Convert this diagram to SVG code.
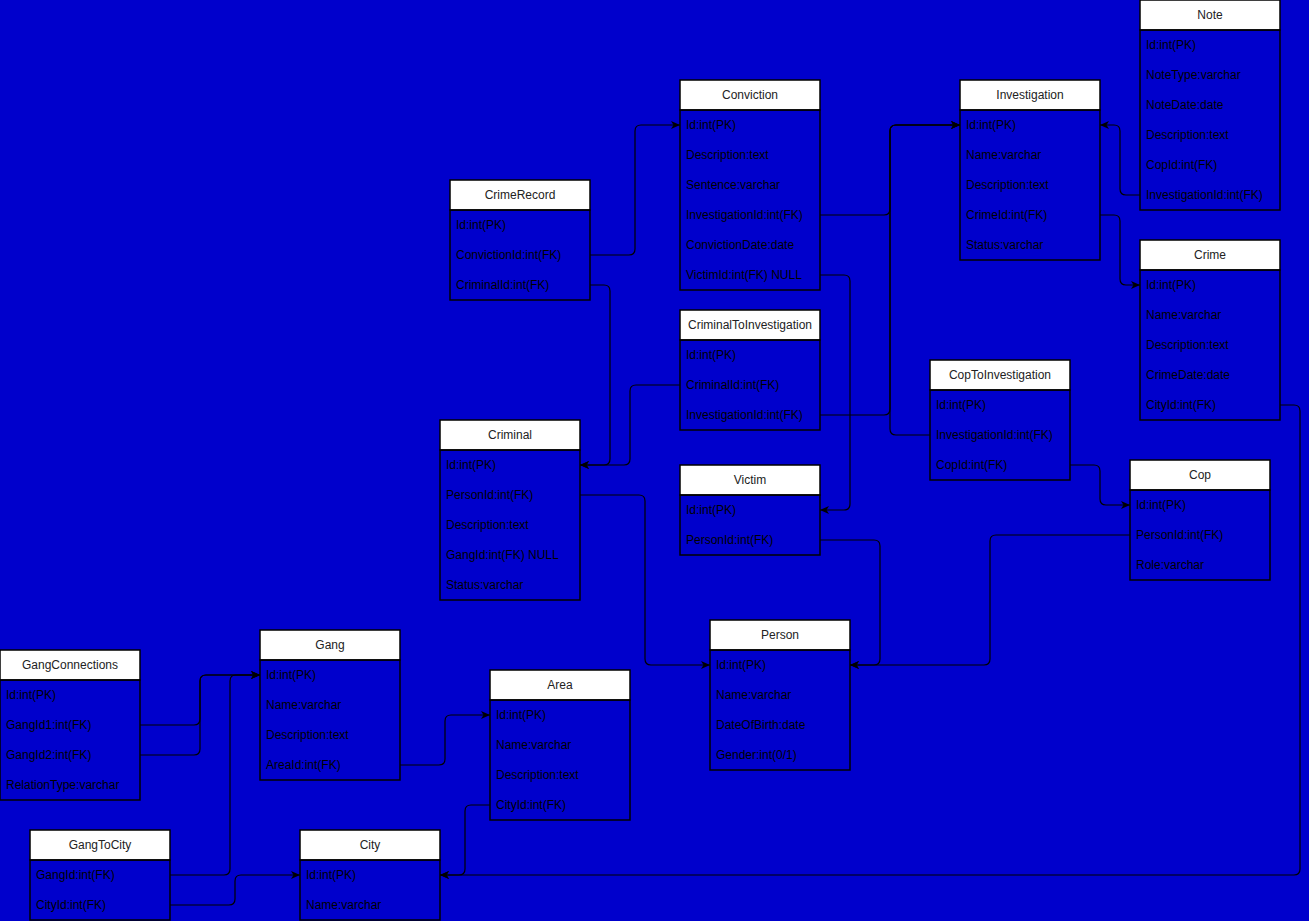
<svg xmlns="http://www.w3.org/2000/svg" width="1309" height="921" viewBox="0 0 1309 921">
<defs>
<style>
.bg{fill:#0000CC}
.hdr{fill:#ffffff;stroke:#000;stroke-width:1.5}
.body{fill:none;stroke:#000;stroke-width:1.5}
.t{font-family:"Liberation Sans",Arial,sans-serif;font-size:12px;fill:#222;text-anchor:middle}
.f{font-family:"Liberation Sans",Arial,sans-serif;font-size:12px;fill:#000}
.c{fill:none;stroke:#000;stroke-width:1.2;marker-end:url(#arr)}
</style>
<marker id="arr" markerUnits="userSpaceOnUse" markerWidth="10" markerHeight="10" refX="9" refY="5" orient="auto">
<path d="M0,1 L9,5 L0,9 L2.5,5 Z" fill="#000"/>
</marker>
</defs>
<rect class="bg" x="0" y="0" width="1309" height="921"/>

<g id="connectors">
<path class="c" d="M590 255 H629 Q635 255 635 249 V131 Q635 125 641 125 H680"/>
<path class="c" d="M590 285 H604 Q610 285 610 291 V459 Q610 465 604 465 H580"/>
<path class="c" d="M680 385 H636 Q630 385 630 391 V459 Q630 465 624 465 H580"/>
<path class="c" d="M820 215 H884 Q890 215 890 209 V131 Q890 125 896 125 H960"/>
<path class="c" d="M820 415 H884 Q890 415 890 409 V131 Q890 125 896 125 H960"/>
<path class="c" d="M930 435 H896 Q890 435 890 429 V131 Q890 125 896 125 H960"/>
<path class="c" d="M820 275 H844 Q850 275 850 281 V504 Q850 510 844 510 H820"/>
<path class="c" d="M820 540 H874 Q880 540 880 546 V659 Q880 665 874 665 H850"/>
<path class="c" d="M1130 535 H996 Q990 535 990 541 V659 Q990 665 984 665 H850"/>
<path class="c" d="M580 495 H639 Q645 495 645 501 V659 Q645 665 651 665 H710"/>
<path class="c" d="M1140 195 H1126 Q1120 195 1120 189 V131 Q1120 125 1114 125 H1100"/>
<path class="c" d="M1100 215 H1114 Q1120 215 1120 221 V279 Q1120 285 1126 285 H1140"/>
<path class="c" d="M1070 465 H1094 Q1100 465 1100 471 V499 Q1100 505 1106 505 H1130"/>
<path class="c" d="M1280 405 H1294 Q1300 405 1300 411 V869 Q1300 875 1294 875 H440"/>
<path class="c" d="M490 805 H471 Q465 805 465 811 V869 Q465 875 459 875 H440"/>
<path class="c" d="M400 765 H439 Q445 765 445 759 V721 Q445 715 451 715 H490"/>
<path class="c" d="M140 725 H194 Q200 725 200 719 V681 Q200 675 206 675 H260"/>
<path class="c" d="M140 755 H194 Q200 755 200 749 V681 Q200 675 206 675 H260"/>
<path class="c" d="M170 875 H224 Q230 875 230 869 V681 Q230 675 236 675 H260"/>
<path class="c" d="M170 905 H229 Q235 905 235 899 V881 Q235 875 241 875 H300"/>
</g>

<g id="note">
<rect class="hdr" x="1140" y="0" width="140" height="30"/>
<rect class="body" x="1140" y="30" width="140" height="180"/>
<text class="t" x="1210" y="19">Note</text>
<text class="f" x="1146" y="49">Id:int(PK)</text>
<text class="f" x="1146" y="79">NoteType:varchar</text>
<text class="f" x="1146" y="109">NoteDate:date</text>
<text class="f" x="1146" y="139">Description:text</text>
<text class="f" x="1146" y="169">CopId:int(FK)</text>
<text class="f" x="1146" y="199">InvestigationId:int(FK)</text>
</g>

<g id="conviction">
<rect class="hdr" x="680" y="80" width="140" height="30"/>
<rect class="body" x="680" y="110" width="140" height="180"/>
<text class="t" x="750" y="99">Conviction</text>
<text class="f" x="686" y="129">Id:int(PK)</text>
<text class="f" x="686" y="159">Description:text</text>
<text class="f" x="686" y="189">Sentence:varchar</text>
<text class="f" x="686" y="219">InvestigationId:int(FK)</text>
<text class="f" x="686" y="249">ConvictionDate:date</text>
<text class="f" x="686" y="279">VictimId:int(FK) NULL</text>
</g>

<g id="investigation">
<rect class="hdr" x="960" y="80" width="140" height="30"/>
<rect class="body" x="960" y="110" width="140" height="150"/>
<text class="t" x="1030" y="99">Investigation</text>
<text class="f" x="966" y="129">Id:int(PK)</text>
<text class="f" x="966" y="159">Name:varchar</text>
<text class="f" x="966" y="189">Description:text</text>
<text class="f" x="966" y="219">CrimeId:int(FK)</text>
<text class="f" x="966" y="249">Status:varchar</text>
</g>

<g id="crimerecord">
<rect class="hdr" x="450" y="180" width="140" height="30"/>
<rect class="body" x="450" y="210" width="140" height="90"/>
<text class="t" x="520" y="199">CrimeRecord</text>
<text class="f" x="456" y="229">Id:int(PK)</text>
<text class="f" x="456" y="259">ConvictionId:int(FK)</text>
<text class="f" x="456" y="289">CriminalId:int(FK)</text>
</g>

<g id="crime">
<rect class="hdr" x="1140" y="240" width="140" height="30"/>
<rect class="body" x="1140" y="270" width="140" height="150"/>
<text class="t" x="1210" y="259">Crime</text>
<text class="f" x="1146" y="289">Id:int(PK)</text>
<text class="f" x="1146" y="319">Name:varchar</text>
<text class="f" x="1146" y="349">Description:text</text>
<text class="f" x="1146" y="379">CrimeDate:date</text>
<text class="f" x="1146" y="409">CityId:int(FK)</text>
</g>

<g id="criminaltoinvestigation">
<rect class="hdr" x="680" y="310" width="140" height="30"/>
<rect class="body" x="680" y="340" width="140" height="90"/>
<text class="t" x="750" y="329">CriminalToInvestigation</text>
<text class="f" x="686" y="359">Id:int(PK)</text>
<text class="f" x="686" y="389">CriminalId:int(FK)</text>
<text class="f" x="686" y="419">InvestigationId:int(FK)</text>
</g>

<g id="coptoinvestigation">
<rect class="hdr" x="930" y="360" width="140" height="30"/>
<rect class="body" x="930" y="390" width="140" height="90"/>
<text class="t" x="1000" y="379">CopToInvestigation</text>
<text class="f" x="936" y="409">Id:int(PK)</text>
<text class="f" x="936" y="439">InvestigationId:int(FK)</text>
<text class="f" x="936" y="469">CopId:int(FK)</text>
</g>

<g id="criminal">
<rect class="hdr" x="440" y="420" width="140" height="30"/>
<rect class="body" x="440" y="450" width="140" height="150"/>
<text class="t" x="510" y="439">Criminal</text>
<text class="f" x="446" y="469">Id:int(PK)</text>
<text class="f" x="446" y="499">PersonId:int(FK)</text>
<text class="f" x="446" y="529">Description:text</text>
<text class="f" x="446" y="559">GangId:int(FK) NULL</text>
<text class="f" x="446" y="589">Status:varchar</text>
</g>

<g id="victim">
<rect class="hdr" x="680" y="465" width="140" height="30"/>
<rect class="body" x="680" y="495" width="140" height="60"/>
<text class="t" x="750" y="484">Victim</text>
<text class="f" x="686" y="514">Id:int(PK)</text>
<text class="f" x="686" y="544">PersonId:int(FK)</text>
</g>

<g id="cop">
<rect class="hdr" x="1130" y="460" width="140" height="30"/>
<rect class="body" x="1130" y="490" width="140" height="90"/>
<text class="t" x="1200" y="479">Cop</text>
<text class="f" x="1136" y="509">Id:int(PK)</text>
<text class="f" x="1136" y="539">PersonId:int(FK)</text>
<text class="f" x="1136" y="569">Role:varchar</text>
</g>

<g id="person">
<rect class="hdr" x="710" y="620" width="140" height="30"/>
<rect class="body" x="710" y="650" width="140" height="120"/>
<text class="t" x="780" y="639">Person</text>
<text class="f" x="716" y="669">Id:int(PK)</text>
<text class="f" x="716" y="699">Name:varchar</text>
<text class="f" x="716" y="729">DateOfBirth:date</text>
<text class="f" x="716" y="759">Gender:int(0/1)</text>
</g>

<g id="gangconnections">
<rect class="hdr" x="0" y="650" width="140" height="30"/>
<rect class="body" x="0" y="680" width="140" height="120"/>
<text class="t" x="70" y="669">GangConnections</text>
<text class="f" x="6" y="699">Id:int(PK)</text>
<text class="f" x="6" y="729">GangId1:int(FK)</text>
<text class="f" x="6" y="759">GangId2:int(FK)</text>
<text class="f" x="6" y="789">RelationType:varchar</text>
</g>

<g id="gang">
<rect class="hdr" x="260" y="630" width="140" height="30"/>
<rect class="body" x="260" y="660" width="140" height="120"/>
<text class="t" x="330" y="649">Gang</text>
<text class="f" x="266" y="679">Id:int(PK)</text>
<text class="f" x="266" y="709">Name:varchar</text>
<text class="f" x="266" y="739">Description:text</text>
<text class="f" x="266" y="769">AreaId:int(FK)</text>
</g>

<g id="area">
<rect class="hdr" x="490" y="670" width="140" height="30"/>
<rect class="body" x="490" y="700" width="140" height="120"/>
<text class="t" x="560" y="689">Area</text>
<text class="f" x="496" y="719">Id:int(PK)</text>
<text class="f" x="496" y="749">Name:varchar</text>
<text class="f" x="496" y="779">Description:text</text>
<text class="f" x="496" y="809">CityId:int(FK)</text>
</g>

<g id="gangtocity">
<rect class="hdr" x="30" y="830" width="140" height="30"/>
<rect class="body" x="30" y="860" width="140" height="60"/>
<text class="t" x="100" y="849">GangToCity</text>
<text class="f" x="36" y="879">GangId:int(FK)</text>
<text class="f" x="36" y="909">CityId:int(FK)</text>
</g>

<g id="city">
<rect class="hdr" x="300" y="830" width="140" height="30"/>
<rect class="body" x="300" y="860" width="140" height="60"/>
<text class="t" x="370" y="849">City</text>
<text class="f" x="306" y="879">Id:int(PK)</text>
<text class="f" x="306" y="909">Name:varchar</text>
</g>
</svg>
